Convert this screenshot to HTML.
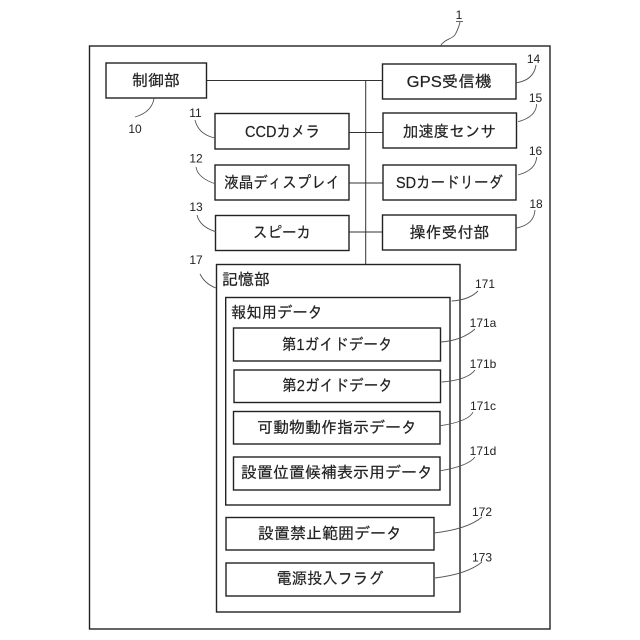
<!DOCTYPE html>
<html lang="ja">
<head>
<meta charset="utf-8">
<style>
html,body{margin:0;padding:0;background:#fff;width:640px;height:640px;overflow:hidden}
svg{display:block}
text{font-family:"Liberation Sans","IPAGothic","Noto Sans CJK JP",sans-serif;fill:#222}
.t{font-size:16px;text-anchor:middle;stroke:#222;stroke-width:.2}
.l{font-size:16px;stroke:#222;stroke-width:.2}
.n{font-size:12px;text-anchor:middle}
.b{fill:#fff;stroke:#222;stroke-width:1.4}
.c{fill:none;stroke:#333;stroke-width:1}
.g{fill:none;stroke:#555;stroke-width:.9}
</style>
</head>
<body>
<svg width="640" height="640" viewBox="0 0 640 640" xmlns="http://www.w3.org/2000/svg">
<rect class="b" x="89.5" y="46" width="460.5" height="583"/>

<path class="c" d="M207 80.5H382M365.7 80.5V264.5M349 132.5H383M349 183H383M349 232H383"/>

<rect class="b" x="106" y="63" width="100.5" height="35"/>
<rect class="b" x="215" y="113.5" width="134" height="35.5"/>
<rect class="b" x="215" y="165" width="134" height="35"/>
<rect class="b" x="215.5" y="215.5" width="133.5" height="35"/>
<rect class="b" x="382.5" y="64" width="133.5" height="35"/>
<rect class="b" x="383" y="113" width="133.5" height="35"/>
<rect class="b" x="383" y="165" width="133" height="35"/>
<rect class="b" x="382.5" y="215" width="133.5" height="35"/>

<rect class="b" x="216.5" y="264.5" width="243.5" height="347.5"/>
<rect class="b" x="225.7" y="297.5" width="224.3" height="207.5"/>
<rect class="b" x="233.5" y="328" width="207" height="33"/>
<rect class="b" x="234" y="370" width="206.5" height="32.5"/>
<rect class="b" x="233.5" y="411.5" width="206.5" height="32.5"/>
<rect class="b" x="233.5" y="457" width="206.5" height="33"/>
<rect class="b" x="226" y="517.5" width="208" height="32.5"/>
<rect class="b" x="226" y="563" width="208" height="33"/>

<text class="t" x="156" y="86">制御部</text>
<text class="t" x="282.5" y="137" textLength="75" lengthAdjust="spacingAndGlyphs">CCDカメラ</text>
<text class="t" x="282.2" y="188" textLength="116" lengthAdjust="spacingAndGlyphs">液晶ディスプレイ</text>
<text class="t" x="282" y="238" textLength="58" lengthAdjust="spacingAndGlyphs">スピーカ</text>
<text class="t" x="449.2" y="87" textLength="85" lengthAdjust="spacingAndGlyphs">GPS受信機</text>
<text class="t" x="449.3" y="137" textLength="93" lengthAdjust="spacingAndGlyphs">加速度センサ</text>
<text class="t" x="449.5" y="188" textLength="107" lengthAdjust="spacingAndGlyphs">SDカードリーダ</text>
<text class="t" x="449.5" y="238">操作受付部</text>
<text class="l" x="222" y="285">記憶部</text>
<text class="l" x="231" y="318" textLength="92" lengthAdjust="spacingAndGlyphs">報知用データ</text>
<text class="t" x="337.2" y="350" textLength="111" lengthAdjust="spacingAndGlyphs">第1ガイドデータ</text>
<text class="t" x="337.5" y="391" textLength="111" lengthAdjust="spacingAndGlyphs">第2ガイドデータ</text>
<text class="t" x="337" y="433">可動物動作指示データ</text>
<text class="t" x="337" y="478">設置位置候補表示用データ</text>
<text class="t" x="330" y="539">設置禁止範囲データ</text>
<text class="t" x="330" y="584" textLength="107" lengthAdjust="spacingAndGlyphs">電源投入フラグ</text>

<path class="g" d="M440.7 45.7C444 39 454 39 456 33C458 29 459 27 460 22"/>
<path class="g" d="M456 21.5H463"/>
<path class="g" d="M154 98.7Q151.5 112.2 135 117"/>
<path class="g" d="M215 138Q198.4 134.4 195 120"/>
<path class="g" d="M215.7 184Q197.5 177.9 196 167"/>
<path class="g" d="M215.7 231.7Q199.6 226.6 197 215"/>
<path class="g" d="M516.7 82.7Q533.6 80.1 536 65"/>
<path class="g" d="M518 121.7Q536 117.1 536.7 104"/>
<path class="g" d="M518 175Q536 170 536.7 157"/>
<path class="g" d="M516.7 228Q534.1 224.4 535 210"/>
<path class="g" d="M216 288Q205 284 200 274"/>
<path class="g" d="M451.7 301Q469.1 300 478 291"/>
<path class="g" d="M440.7 342Q462.1 340.5 475 329"/>
<path class="g" d="M441.7 382Q467.6 380 475 370"/>
<path class="g" d="M440.7 425.7Q469.1 421.1 473 412"/>
<path class="g" d="M440.7 470.7Q468.1 466.1 475 457"/>
<path class="g" d="M434 533Q468 529 482 517"/>
<path class="g" d="M435 578Q467.5 574 482 562"/>

<text class="n" x="459" y="19">1</text>
<text class="n" x="135" y="133">10</text>
<text class="n" x="195.5" y="117">11</text>
<text class="n" x="196" y="162.5">12</text>
<text class="n" x="196" y="211">13</text>
<text class="n" x="533.5" y="63">14</text>
<text class="n" x="535.5" y="102">15</text>
<text class="n" x="535.5" y="155">16</text>
<text class="n" x="536" y="208">18</text>
<text class="n" x="196" y="264">17</text>
<text class="n" x="485" y="288">171</text>
<text class="n" x="483" y="327">171a</text>
<text class="n" x="483" y="368">171b</text>
<text class="n" x="483" y="410">171c</text>
<text class="n" x="483" y="455">171d</text>
<text class="n" x="482" y="516">172</text>
<text class="n" x="482" y="561.5">173</text>
</svg>
</body>
</html>
